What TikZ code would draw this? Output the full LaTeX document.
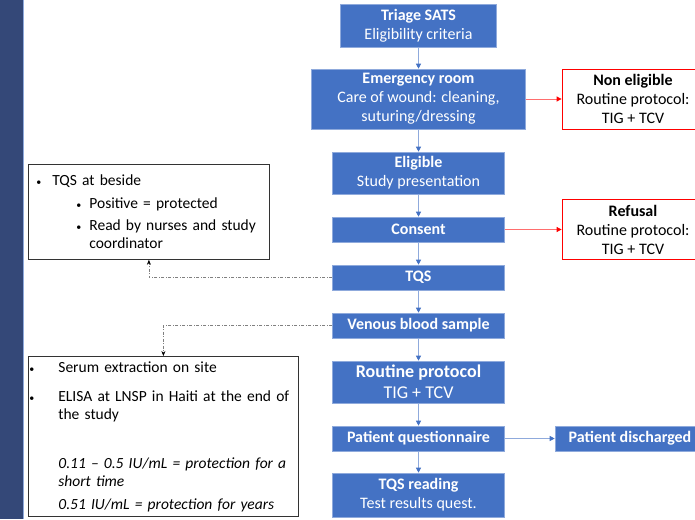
\documentclass[tikz,border=0pt]{standalone}
\usepackage{fontspec}
\setmainfont{Carlito}
\usetikzlibrary{arrows.meta}
\definecolor{boxblue}{RGB}{68,114,196}
\definecolor{edgeblue}{RGB}{143,170,220}
\definecolor{barblue}{RGB}{52,72,120}
\definecolor{linkred}{RGB}{255,110,110}
\newcommand\smallbul{{\fontsize{10}{10}\selectfont\textbullet}}

\begin{document}
\begin{tikzpicture}[x=1pt,y=-1pt,
  stage/.style={draw=edgeblue, line width=0.6pt, fill=boxblue, text=white, inner sep=0pt,
    minimum width=172pt, align=center, font=\fontsize{16}{19}\selectfont},
  exitbox/.style={draw=red, line width=0.8pt, fill=white, inner sep=0pt, minimum width=142pt,
    minimum height=60pt, align=center, font=\fontsize{16}{19}\selectfont},
  note/.style={draw=black!80, line width=0.8pt, inner ysep=0pt, align=left, anchor=north west,
    font=\fontsize{15.5}{18}\selectfont},
  flow/.style={draw=edgeblue, line width=1pt, -{Triangle[length=5pt,width=5pt,color=boxblue]}},
  reject/.style={draw=linkred, line width=0.8pt, -{Triangle[length=5pt,width=5pt,color=red]}},
  aside/.style={draw=gray, line width=0.6pt, dash pattern=on 3pt off 1.5pt on 1pt off 1.5pt,
    -{Stealth[length=5pt,width=4pt,color=black]}}]
\useasboundingbox (0,0) rectangle (695,519);
\fill[barblue] (0,0) rectangle (23,519);
\draw[edgeblue, line width=1pt] (23.5,0) -- (23.5,519);

\node[stage, minimum height=43pt, minimum width=156pt] (triage) at (418.5,25.5) {\textbf{Triage SATS}\\Eligibility criteria};
\node[stage, minimum height=60pt, minimum width=214pt] (emergency) at (418.5,99) {\textbf{Emergency room}\\Care of wound: cleaning,\\suturing/dressing};
\node[exitbox] (noneligible) at (633,99) {\textbf{Non eligible}\\Routine protocol:\\TIG + TCV};
\node[stage, minimum height=42pt] (eligible) at (418.5,173) {\textbf{Eligible}\\Study presentation};
\node[stage, minimum height=25pt] (consent) at (418.5,229.5) {\textbf{Consent}};
\node[exitbox] (refusal) at (633,229.5) {\textbf{Refusal}\\Routine protocol:\\TIG + TCV};
\node[stage, minimum height=25pt] (tqs) at (418.5,277.5) {\textbf{TQS}};
\node[stage, minimum height=25pt] (venous) at (418.5,325.5) {\textbf{Venous blood sample}};
\node[stage, minimum height=42pt, font=\fontsize{18}{21}\selectfont] (routine) at (418.5,382) {\textbf{Routine protocol}\\TIG + TCV};
\node[stage, minimum height=25pt] (questionnaire) at (418.5,438.5) {\textbf{Patient questionnaire}};
\node[stage, minimum height=25pt, minimum width=150pt] (discharged) at (630,438.5) {\textbf{Patient discharged}};
\node[stage, minimum height=44pt] (reading) at (418.5,495) {\textbf{TQS reading}\\Test results quest.};

\node[note, inner xsep=8pt, text width=225pt, minimum height=95pt] (tqsnote) at (28,164) {%
\smallbul\hspace{11pt}TQS at beside\\[4.5pt]
\hspace*{40pt}\smallbul\hspace{8pt}Positive = protected\\[4.5pt]
\hspace*{40pt}\smallbul\hspace{8pt}\parbox[t]{170pt}{\raggedright Read by nurses and study\\coordinator}};
\node[note, inner xsep=1pt, text width=268pt, minimum height=160pt] (elisa) at (28,356) {%
\makebox[29pt][l]{\smallbul}Serum extraction on site\\[11pt]
\makebox[29pt][l]{\smallbul}ELISA at LNSP in Haiti at the end of\\
\hspace*{29pt}the study\\[31pt]
\hspace*{29pt}\textit{0.11 – 0.5 IU/mL = protection for a}\\
\hspace*{29pt}\textit{short time}\\[5pt]
\hspace*{29pt}\textit{0.51 IU/mL = protection for years}};

\foreach \a/\b in {triage/emergency, emergency/eligible, eligible/consent, consent/tqs,
  tqs/venous, venous/routine, routine/questionnaire, questionnaire/reading}
  \path[flow] (\a) -- (\b);
\path[flow] (questionnaire) -- (discharged);
\path[reject] (emergency) -- (noneligible);
\path[reject] (consent) -- (refusal);
\path[aside] (tqs.west) -| (tqsnote.south);
\path[aside] (venous.west) -| (elisa.north);
\end{tikzpicture}
\end{document}
